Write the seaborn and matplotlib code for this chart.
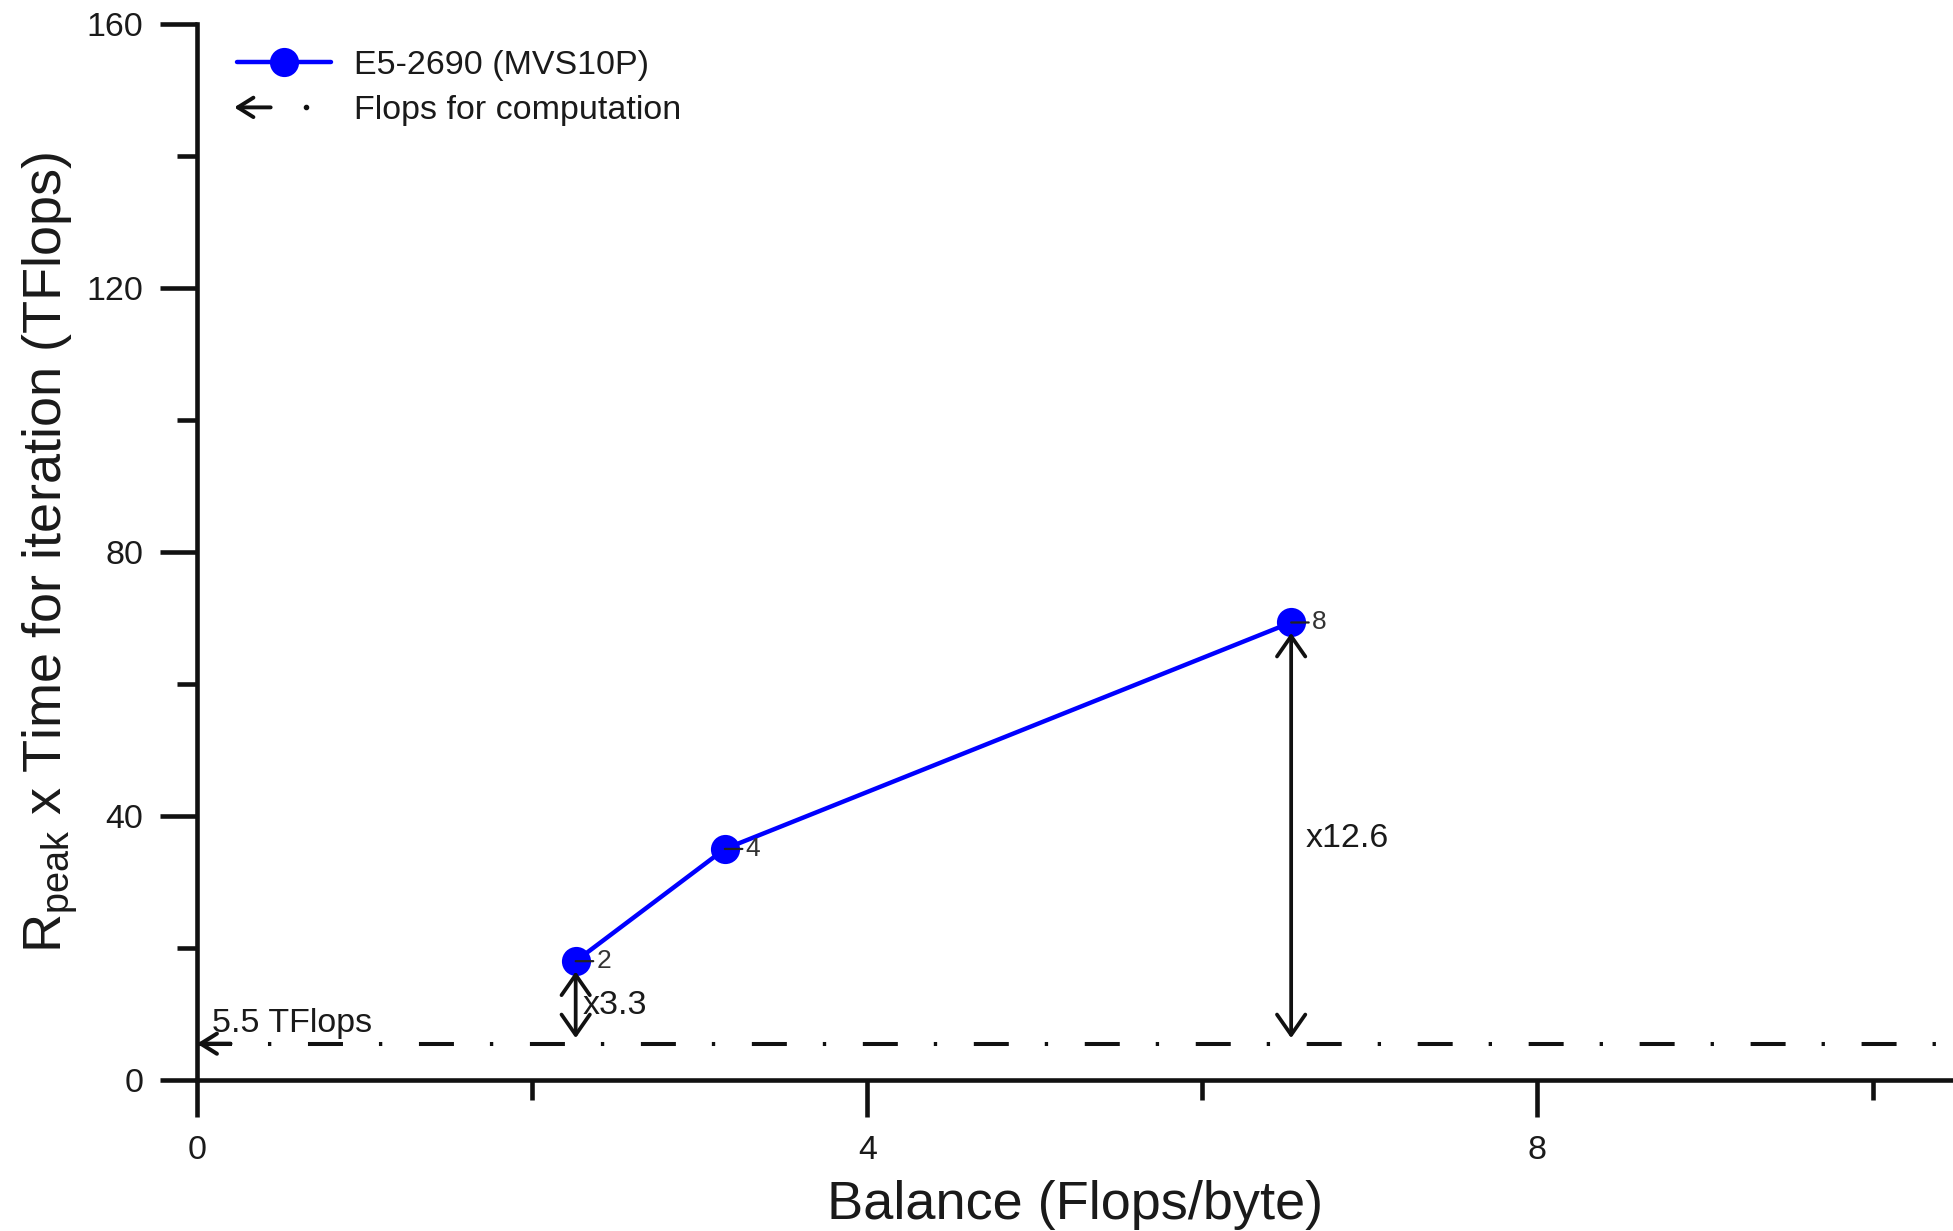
import numpy as np
import pandas as pd
import matplotlib
matplotlib.use('Agg')
import matplotlib.pyplot as plt
import seaborn as sns
from matplotlib.lines import Line2D
from matplotlib.legend_handler import HandlerBase
from matplotlib.patches import FancyArrowPatch
from matplotlib.ticker import FixedLocator

# ---- data ----
balance = [2.26, 3.15, 6.53]
tflops = [18.0, 35.0, 69.3]
point_labels = ['2', '4', '8']
series_name = 'E5-2690 (MVS10P)'
compute_name = 'Flops for computation'
compute_level = 5.5
compute_label = '5.5 TFlops'
ratio_labels = ['x3.3', 'x12.6']
ratio_points = [0, 2]
x_major = [0, 4, 8]
x_minor = [2, 6, 10]
y_major = [0, 40, 80, 120, 160]
y_minor = [20, 60, 100, 140]

sns.set_style('ticks')
plt.rcParams['font.family'] = ['Liberation Sans', 'DejaVu Sans']
plt.rcParams['mathtext.fontset'] = 'custom'
plt.rcParams['mathtext.rm'] = 'Liberation Sans'
plt.rcParams['lines.scale_dashes'] = False

INK = '#111111'
TXT = '#1a1a1a'
BLUE = '#0000ff'
FS = 24.5
FS_LAB = 39

fig = plt.figure(figsize=(19.53, 12.31), dpi=100)
ax = fig.add_axes([197/1953, 151/1231, 1756/1953, 1056.3/1231])

df = pd.DataFrame({'balance': balance, 'tflops': tflops})
sns.lineplot(data=df, x='balance', y='tflops', ax=ax, color=BLUE, lw=3.2,
             marker='o', markersize=21, markeredgewidth=0, legend=False,
             zorder=4)

# computation level dash-dot line
ax.axhline(compute_level, color=INK, lw=2.9,
           linestyle=(0, (25.2, 25.9, 2.4, 26.4)), dash_capstyle='butt', zorder=2)
ax.annotate('', xy=(0, compute_level), xytext=(0.2, compute_level),
            arrowprops=dict(arrowstyle='->,head_length=0.4,head_width=0.25',
                            lw=2.9, color=INK, mutation_scale=29,
                            shrinkA=0, shrinkB=0), annotation_clip=False)
ax.text(0.09, 7.2, compute_label, fontsize=FS, color=TXT, va='baseline', ha='left')

# point labels
for x, y, lab in zip(balance, tflops, point_labels):
    ax.annotate(lab, xy=(x, y), xytext=(15, 0), textcoords='offset points',
                fontsize=19, color='#333333', va='center', ha='left', zorder=6,
                arrowprops=dict(arrowstyle='-', lw=1.6, color='#222222',
                                shrinkA=0, shrinkB=0))

# ratio arrows
ratio_text_pos = [(2.30, 10.0), (6.615, 35.3)]
for idx, lab, (tx, ty) in zip(ratio_points, ratio_labels, ratio_text_pos):
    x = balance[idx]
    ax.annotate('', xy=(x, tflops[idx]), xytext=(x, compute_level),
                arrowprops=dict(arrowstyle='<->,head_length=0.43,head_width=0.3',
                                lw=2.7, color=INK, mutation_scale=34,
                                shrinkA=4, shrinkB=7.5), zorder=5)
    ax.text(tx, ty, lab, fontsize=FS, color=TXT, va='baseline', ha='left')

# axes styling
ax.set_xlim(0, 10.48)
ax.set_ylim(0, 160)
ax.xaxis.set_major_locator(FixedLocator(x_major))
ax.xaxis.set_minor_locator(FixedLocator(x_minor))
ax.yaxis.set_major_locator(FixedLocator(y_major))
ax.yaxis.set_minor_locator(FixedLocator(y_minor))
ax.tick_params(axis='both', which='major', length=26.6, width=3.3, direction='out',
               labelsize=FS, colors=INK, labelcolor=TXT)
ax.tick_params(axis='y', which='major', pad=12)
ax.tick_params(axis='x', which='major', pad=13)
ax.tick_params(axis='both', which='minor', length=14.5, width=3.3, direction='out', colors=INK)
for s in ['top', 'right']:
    ax.spines[s].set_visible(False)
for s in ['left', 'bottom']:
    ax.spines[s].set_linewidth(3.3)
    ax.spines[s].set_color(INK)
    ax.spines[s].set_capstyle('projecting')
ax.grid(False)

ax.set_xlabel('Balance (Flops/byte)', fontsize=FS_LAB, color=TXT, labelpad=10)
ax.set_ylabel(r'R$_{\mathregular{peak}}$ x Time for iteration (TFlops)', fontsize=FS_LAB,
              color=TXT, labelpad=4)


class ArrowDotHandler(HandlerBase):
    def create_artists(self, legend, orig_handle, xdescent, ydescent, width, height,
                       fontsize, trans):
        y = height / 2 - ydescent
        arr = FancyArrowPatch((0.36 * width - xdescent, y), (-0.03 * width - xdescent, y),
                              arrowstyle='->,head_length=0.4,head_width=0.25',
                              mutation_scale=28, lw=2.8, color=INK,
                              shrinkA=0, shrinkB=0, transform=trans)
        dot = Line2D([0.74 * width - xdescent], [y], marker='o', markersize=3,
                     color=INK, linestyle='none', transform=trans)
        return [arr, dot]


h1 = Line2D([], [], color=BLUE, lw=3.2, marker='o', markersize=21, markeredgewidth=0)
h2 = Line2D([], [], color=INK, lw=2.9)
leg = fig.legend([h1, h2], [series_name, compute_name],
                 handler_map={h2: ArrowDotHandler()},
                 loc='upper left', bbox_to_anchor=(237/1953, 1 - 50/1231),
                 frameon=False, fontsize=FS, handlelength=2.75, handletextpad=0.7,
                 labelspacing=0.42, borderpad=0, borderaxespad=0, labelcolor=TXT)

fig.savefig('out.png', dpi=100, facecolor='white')
